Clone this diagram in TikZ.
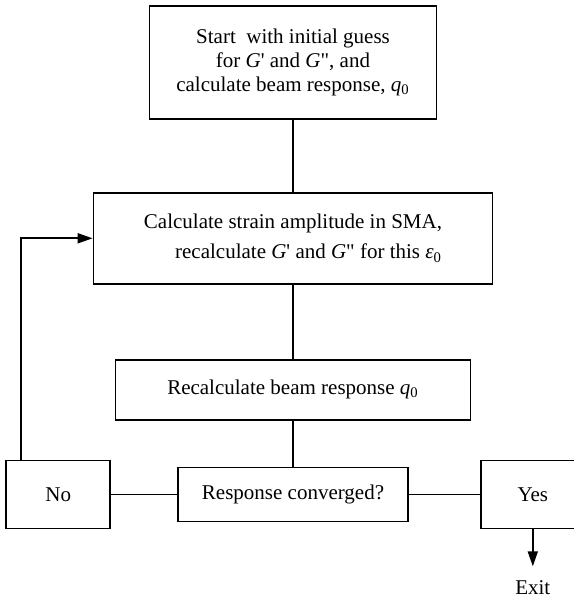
\documentclass[tikz,border=0pt]{standalone}
\usepackage{fontspec}
\setmainfont{Liberation Serif}[Ligatures=TeXOff]
\usetikzlibrary{arrows.meta, positioning}

\begin{document}
\begin{tikzpicture}[
        node distance=36pt,
        font=\fontsize{10.5pt}{12pt}\selectfont,
        stage/.style={rectangle, draw, line width=0.9pt, align=center, inner sep=2pt},
        answer/.style={rectangle, draw, line width=0.9pt, minimum width=52pt, minimum height=34pt},
        link/.style={line width=0.9pt},
        arrow/.style={-{Triangle[length=7.5pt, width=5pt]}, line width=0.9pt}
    ]
    \useasboundingbox (0,0) rectangle (286.5pt,-299pt);

    \node[stage, minimum width=143.5pt, minimum height=56.5pt] (guess) at (146.5pt,-31.25pt) {Start\ \ with initial guess\\for \textit{G}' and \textit{G}", and\\calculate beam response, \textit{q}\textsubscript{0}};
    \node[stage, align=right, minimum width=199.5pt, minimum height=45.5pt, below=36pt of guess] (strain) {Calculate strain amplitude in SMA,\\[3pt]recalculate \textit{G}' and \textit{G}" for this \textit{ε}\textsubscript{0}};
    \node[stage, minimum width=177.5pt, minimum height=30pt, below=37pt of strain] (beam) {Recalculate beam response \textit{q}\textsubscript{0}};
    \node[stage, minimum width=115pt, minimum height=27pt, below=23pt of beam] (conv) {Response converged?};
    \node[answer, left=33pt of conv] (no) {No};
    \node[answer, right=35.5pt of conv] (yes) {Yes};
    \coordinate[below=18.5pt of yes] (out);
    \node[below=7pt of out, inner sep=0pt] (exit) {Exit};

    \draw[link] (guess) -- (strain);
    \draw[link] (strain) -- (beam);
    \draw[link] (beam) -- (conv);
    \draw[link] (no) -- (conv);
    \draw[link] (conv) -- (yes);
    \draw[arrow] ([xshift=8pt]no.north west) |- (strain);
    \draw[arrow] (yes) -- (out);
\end{tikzpicture}
\end{document}
